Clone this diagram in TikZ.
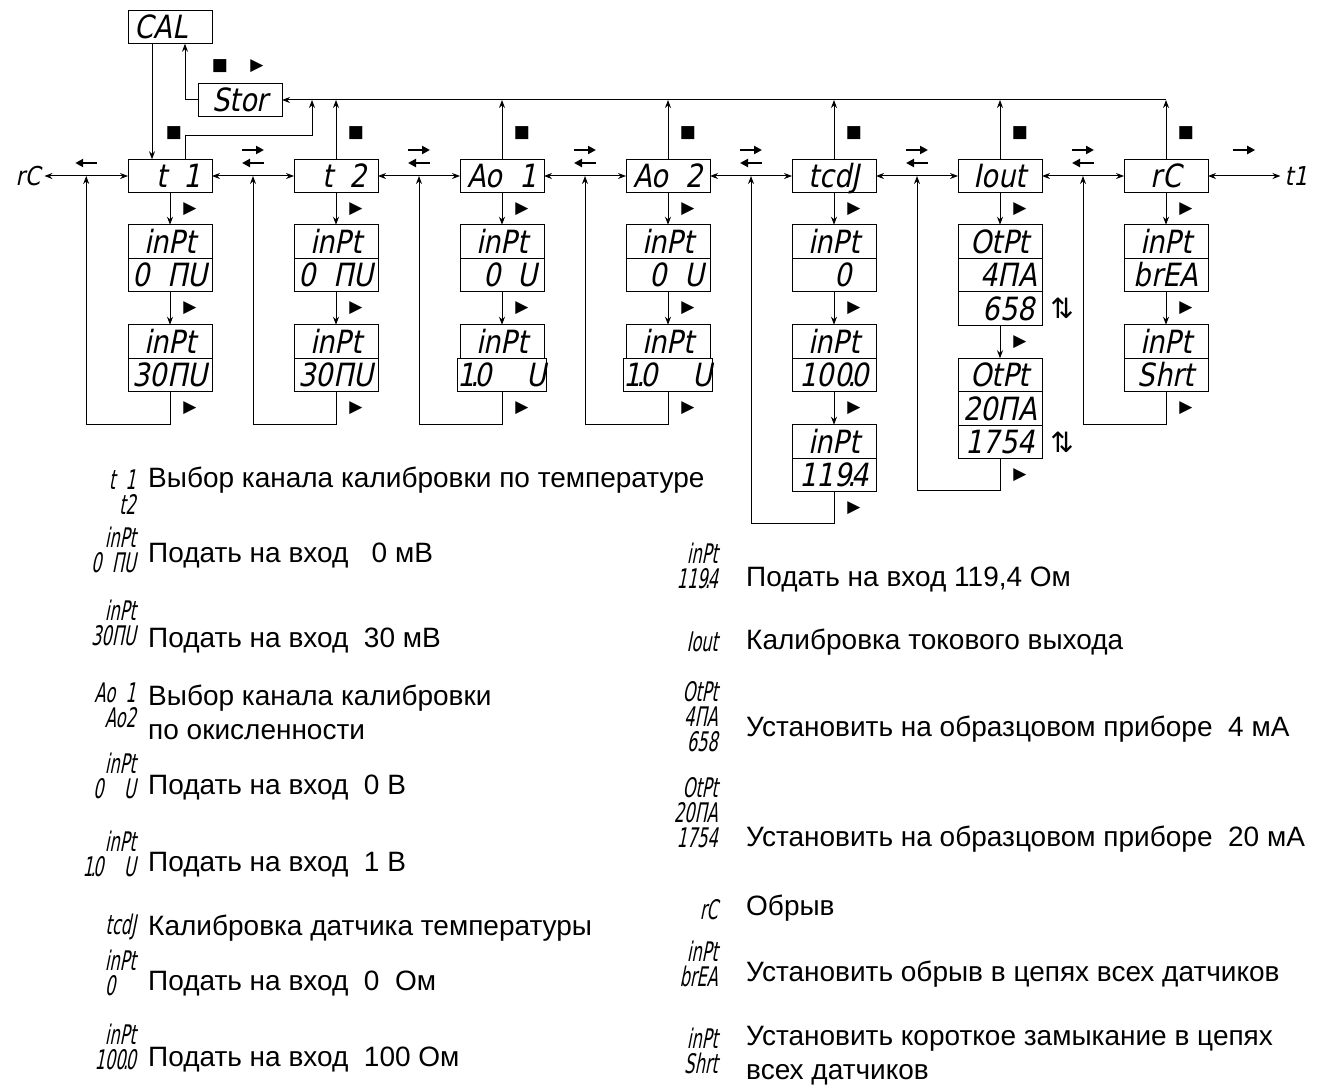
\documentclass[tikz,border=0pt]{standalone}
\usepackage{fontspec}
\setmainfont{Liberation Sans}
\newfontfamily\segfont[FakeStretch=0.85,FakeSlant=0.2]{DejaVu Sans}
\newfontfamily\legfont[FakeStretch=0.6,FakeSlant=0.2]{DejaVu Sans}
\newfontfamily\symfont{DejaVu Sans}
\usetikzlibrary{arrows.meta,positioning,calc}
\newcommand{\gap}{\phantom{0}}
\newcommand{\dpt}{\makebox[0pt]{.}}
\begin{document}
\begin{tikzpicture}[x=1pt,y=-1pt,
  disp/.style={draw,line width=1pt,outer sep=0pt,inner sep=0pt,minimum width=84pt,
    minimum height=33.5pt,text height=23pt,text depth=0pt,font=\segfont\fontsize{32}{32}\selectfont},
  seg/.style={inner sep=4pt,text height=19pt,text depth=0pt,font=\segfont\fontsize{26}{26}\selectfont},
  lnk/.style={line width=1pt,-{Stealth[length=8pt,width=6pt]}},
  both/.style={line width=1pt,{Stealth[length=8pt,width=6pt]}-{Stealth[length=8pt,width=6pt]}},
  keyarr/.style={line width=2pt,-{Triangle[length=8pt,width=8pt]}},
  key/.style={inner sep=0pt,font=\symfont\fontsize{17}{17}\selectfont},
  lgd/.style={anchor=east,align=right,inner sep=0pt,font=\legfont\fontsize{27}{25}\selectfont},
  txt/.style={anchor=west,align=left,inner sep=0pt,font=\fontsize{28}{34}\selectfont}]
  \useasboundingbox (0,0) rectangle (1329,1086);

  % main row
  \node[disp] (cal) at (170,27) {CAL\gap};
  \node[disp] (stor) at (240,100) {Stor};
  \node[disp] (t1) at (170,176) {\gap t\gap 1};
  \node[disp] (t2) at (336,176) {\gap t\gap 2};
  \node[disp] (ao1) at (502,176) {Ao\gap 1};
  \node[disp] (ao2) at (668,176) {Ao\gap 2};
  \node[disp] (tcdj) at (834,176) {tcdJ};
  \node[disp] (iout) at (1000,176) {Iout};
  \node[disp] (rc) at (1166,176) {rC};
  \node[seg] (rcl) at (28,176) {rC};
  \node[seg] (t1r) at (1296,176) {t1};

  % columns
  \node[disp,below=32pt of t1] (t1a) {inPt};
  \node[disp,below=0pt of t1a] (t1b) {0\gap ПU};
  \node[disp,below=33pt of t1b] (t1c) {inPt};
  \node[disp,below=0pt of t1c] (t1d) {30ПU};
  \node[disp,below=32pt of t2] (t2a) {inPt};
  \node[disp,below=0pt of t2a] (t2b) {0\gap ПU};
  \node[disp,below=33pt of t2b] (t2c) {inPt};
  \node[disp,below=0pt of t2c] (t2d) {30ПU};
  \node[disp,below=32pt of ao1] (ao1a) {inPt};
  \node[disp,below=0pt of ao1a] (ao1b) {\gap 0\gap U};
  \node[disp,below=33pt of ao1b] (ao1c) {inPt};
  \node[disp,below=0pt of ao1c] (ao1d) {1\dpt0\gap\gap U};
  \node[disp,below=32pt of ao2] (ao2a) {inPt};
  \node[disp,below=0pt of ao2a] (ao2b) {\gap 0\gap U};
  \node[disp,below=33pt of ao2b] (ao2c) {inPt};
  \node[disp,below=0pt of ao2c] (ao2d) {1\dpt0\gap\gap U};
  \node[disp,below=32pt of tcdj] (tcdja) {inPt};
  \node[disp,below=0pt of tcdja] (tcdjb) {\gap\gap 0\gap};
  \node[disp,below=33pt of tcdjb] (tcdjc) {inPt};
  \node[disp,below=0pt of tcdjc] (tcdjd) {100\dpt0};
  \node[disp,below=33pt of tcdjd] (tcdje) {inPt};
  \node[disp,below=0pt of tcdje] (tcdjf) {119\dpt4};
  \node[disp,below=32pt of iout] (iouta) {OtPt};
  \node[disp,below=0pt of iouta] (ioutb) {\gap 4ПA};
  \node[disp,below=0pt of ioutb] (ioutc) {\gap 658};
  \node[disp,below=33pt of ioutc] (ioutd) {OtPt};
  \node[disp,below=0pt of ioutd] (ioute) {20ПA};
  \node[disp,below=0pt of ioute] (ioutf) {1754};
  \node[disp,below=32pt of rc] (rca) {inPt};
  \node[disp,below=0pt of rca] (rcb) {brEA};
  \node[disp,below=33pt of rcb] (rcc) {inPt};
  \node[disp,below=0pt of rcc] (rcd) {Shrt};

  % top bus
  \draw[lnk] ([xshift=-18pt]cal.south) -- ([xshift=-18pt]t1.north);
  \draw[lnk] (stor.west) -| ([xshift=15pt]cal.south);
  \coordinate (bus) at (rc.north |- stor.east);
  \draw[lnk] (bus) -- (stor.east);
  \foreach \n in {t2,ao1,ao2,tcdj,iout,rc}
    \draw[lnk] (\n.north) -- (\n.north |- stor.east);
  \coordinate (t1bend) at (312,136);
  \draw[lnk] ([xshift=15pt]t1.north) |- (t1bend) -- (t1bend |- stor.east);
  \node[key] (ok-cal) at (220,66) {■};
  \node[key] (nx-cal) at (257,66) {▶};
  \node[key] (ok-t1) at ($(t1.north)+(4,-26)$) {■};
  \foreach \n in {t2,ao1,ao2,tcdj,iout,rc}
    \node[key] (ok-\n) at ($(\n.north)+(20,-26)$) {■};

  % row links
  \draw[both] (rcl) -- (t1);
  \draw[both] (t1) -- (t2);
  \draw[both] (t2) -- (ao1);
  \draw[both] (ao1) -- (ao2);
  \draw[both] (ao2) -- (tcdj);
  \draw[both] (tcdj) -- (iout);
  \draw[both] (iout) -- (rc);
  \draw[both] (rc) -- (t1r);
  \coordinate (j0) at ($(rcl.east)!.5!(t1.west)$);
  \coordinate (j1) at ($(t1.east)!.5!(t2.west)$);
  \coordinate (j2) at ($(t2.east)!.5!(ao1.west)$);
  \coordinate (j3) at ($(ao1.east)!.5!(ao2.west)$);
  \coordinate (j4) at ($(ao2.east)!.5!(tcdj.west)$);
  \coordinate (j5) at ($(tcdj.east)!.5!(iout.west)$);
  \coordinate (j6) at ($(iout.east)!.5!(rc.west)$);
  \coordinate (j7) at ($(rc.east)!.5!(t1r.west)$);
  % key arrows
  \draw[keyarr] ($(j0)+(11,-13)$) -- ++(-22,0);
  \foreach \j in {j1,j2,j3,j4,j5,j6}
    {\draw[keyarr] ($(\j)+(-11,-26)$) -- ++(22,0);
     \draw[keyarr] ($(\j)+(11,-13)$) -- ++(-22,0);}
  \draw[keyarr] ($(j7)+(-11,-26)$) -- ++(22,0);

  % steps down and back
  \foreach \a/\b in {t1/t1a,t1b/t1c,t2/t2a,t2b/t2c,ao1/ao1a,ao1b/ao1c,ao2/ao2a,ao2b/ao2c,
      tcdj/tcdja,tcdjb/tcdjc,tcdjd/tcdje,iout/iouta,ioutc/ioutd,rc/rca,rcb/rcc}
    {\draw[lnk] (\a) -- (\b);
     \node[key] (nx-\a) at ($(\a.south)!.5!(\b.north)+(20,0)$) {▶};}
  \foreach \a in {t1d,t2d,ao1d,ao2d,tcdjf,ioutf,rcd}
    \node[key] (nx-\a) at ($(\a.south)+(20,16)$) {▶};
  \draw[lnk] (t1d.south) -- ++(0,33) -| (j0);
  \draw[lnk] (t2d.south) -- ++(0,33) -| (j1);
  \draw[lnk] (ao1d.south) -- ++(0,33) -| (j2);
  \draw[lnk] (ao2d.south) -- ++(0,33) -| (j3);
  \draw[lnk] (tcdjf.south) -- ++(0,32) -| (j4);
  \draw[lnk] (ioutf.south) -- ++(0,32) -| (j5);
  \draw[lnk] (rcd.south) -- ++(0,33) -| (j6);
  \node[key,font=\symfont\fontsize{28}{28}\selectfont] (ud-c) at ($(ioutc.east)+(20,0)$) {⇅};
  \node[key,font=\symfont\fontsize{28}{28}\selectfont] (ud-f) at ($(ioutf.east)+(20,0)$) {⇅};

  % legend, left
  \node[lgd] (d1) at (136,492) {t\gap 1\\t2};
  \node[lgd] (d2) at (136,550) {inPt\\0\gap ПU};
  \node[lgd] (d3) at (136,623) {inPt\\30ПU};
  \node[lgd] (d4) at (136,705) {Ao\gap 1\\Ao2};
  \node[lgd] (d5) at (136,776) {inPt\\0\gap\gap U};
  \node[lgd] (d6) at (136,854) {inPt\\1\dpt0\gap\gap U};
  \node[lgd] (d7) at (136,927) {tcdJ};
  \node[lgd] (d8) at (136,973) {inPt\\\gap 0\gap\gap};
  \node[lgd] (d9) at (136,1047) {inPt\\100\dpt0};
  \node[txt] (l1) at (148,480) {Выбор канала калибровки по температуре};
  \node[txt] (l2) at (148,556) {Подать на вход\ \ \ 0 мВ};
  \node[txt] (l3) at (148,641) {Подать на вход\ \ 30 мВ};
  \node[txt] (l4) at (148,712) {Выбор канала калибровки\\по окисленности};
  \node[txt] (l5) at (148,788) {Подать на вход\ \ 0 В};
  \node[txt] (l6) at (148,865) {Подать на вход\ \ 1 В};
  \node[txt] (l7) at (148,928) {Калибровка датчика температуры};
  \node[txt] (l8) at (148,984) {Подать на вход\ \ 0\ \ Ом};
  \node[txt] (l9) at (148,1059) {Подать на вход\ \ 100 Ом};

  % legend, right
  \node[lgd] (e1) at (718,566) {inPt\\119\dpt4};
  \node[lgd] (e2) at (718,642) {Iout};
  \node[lgd] (e3) at (718,717) {OtPt\\\gap 4ПA\\\gap 658};
  \node[lgd] (e4) at (718,813) {OtPt\\20ПA\\1754};
  \node[lgd] (e5) at (718,910) {rC};
  \node[lgd] (e6) at (718,964) {inPt\\brEA};
  \node[lgd] (e7) at (718,1051) {inPt\\Shrt};
  \node[txt] (r1) at (746,580) {Подать на вход 119,4 Ом};
  \node[txt] (r2) at (746,642) {Калибровка токового выхода};
  \node[txt] (r3) at (746,729) {Установить на образцовом приборе\ \ 4 мА};
  \node[txt] (r4) at (746,839) {Установить на образцовом приборе\ \ 20 мА};
  \node[txt] (r5) at (746,908) {Обрыв};
  \node[txt] (r6) at (746,974) {Установить обрыв в цепях всех датчиков};
  \node[txt] (r7) at (746,1056) {Установить короткое замыкание в цепях\\всех датчиков};
\end{tikzpicture}
\end{document}
